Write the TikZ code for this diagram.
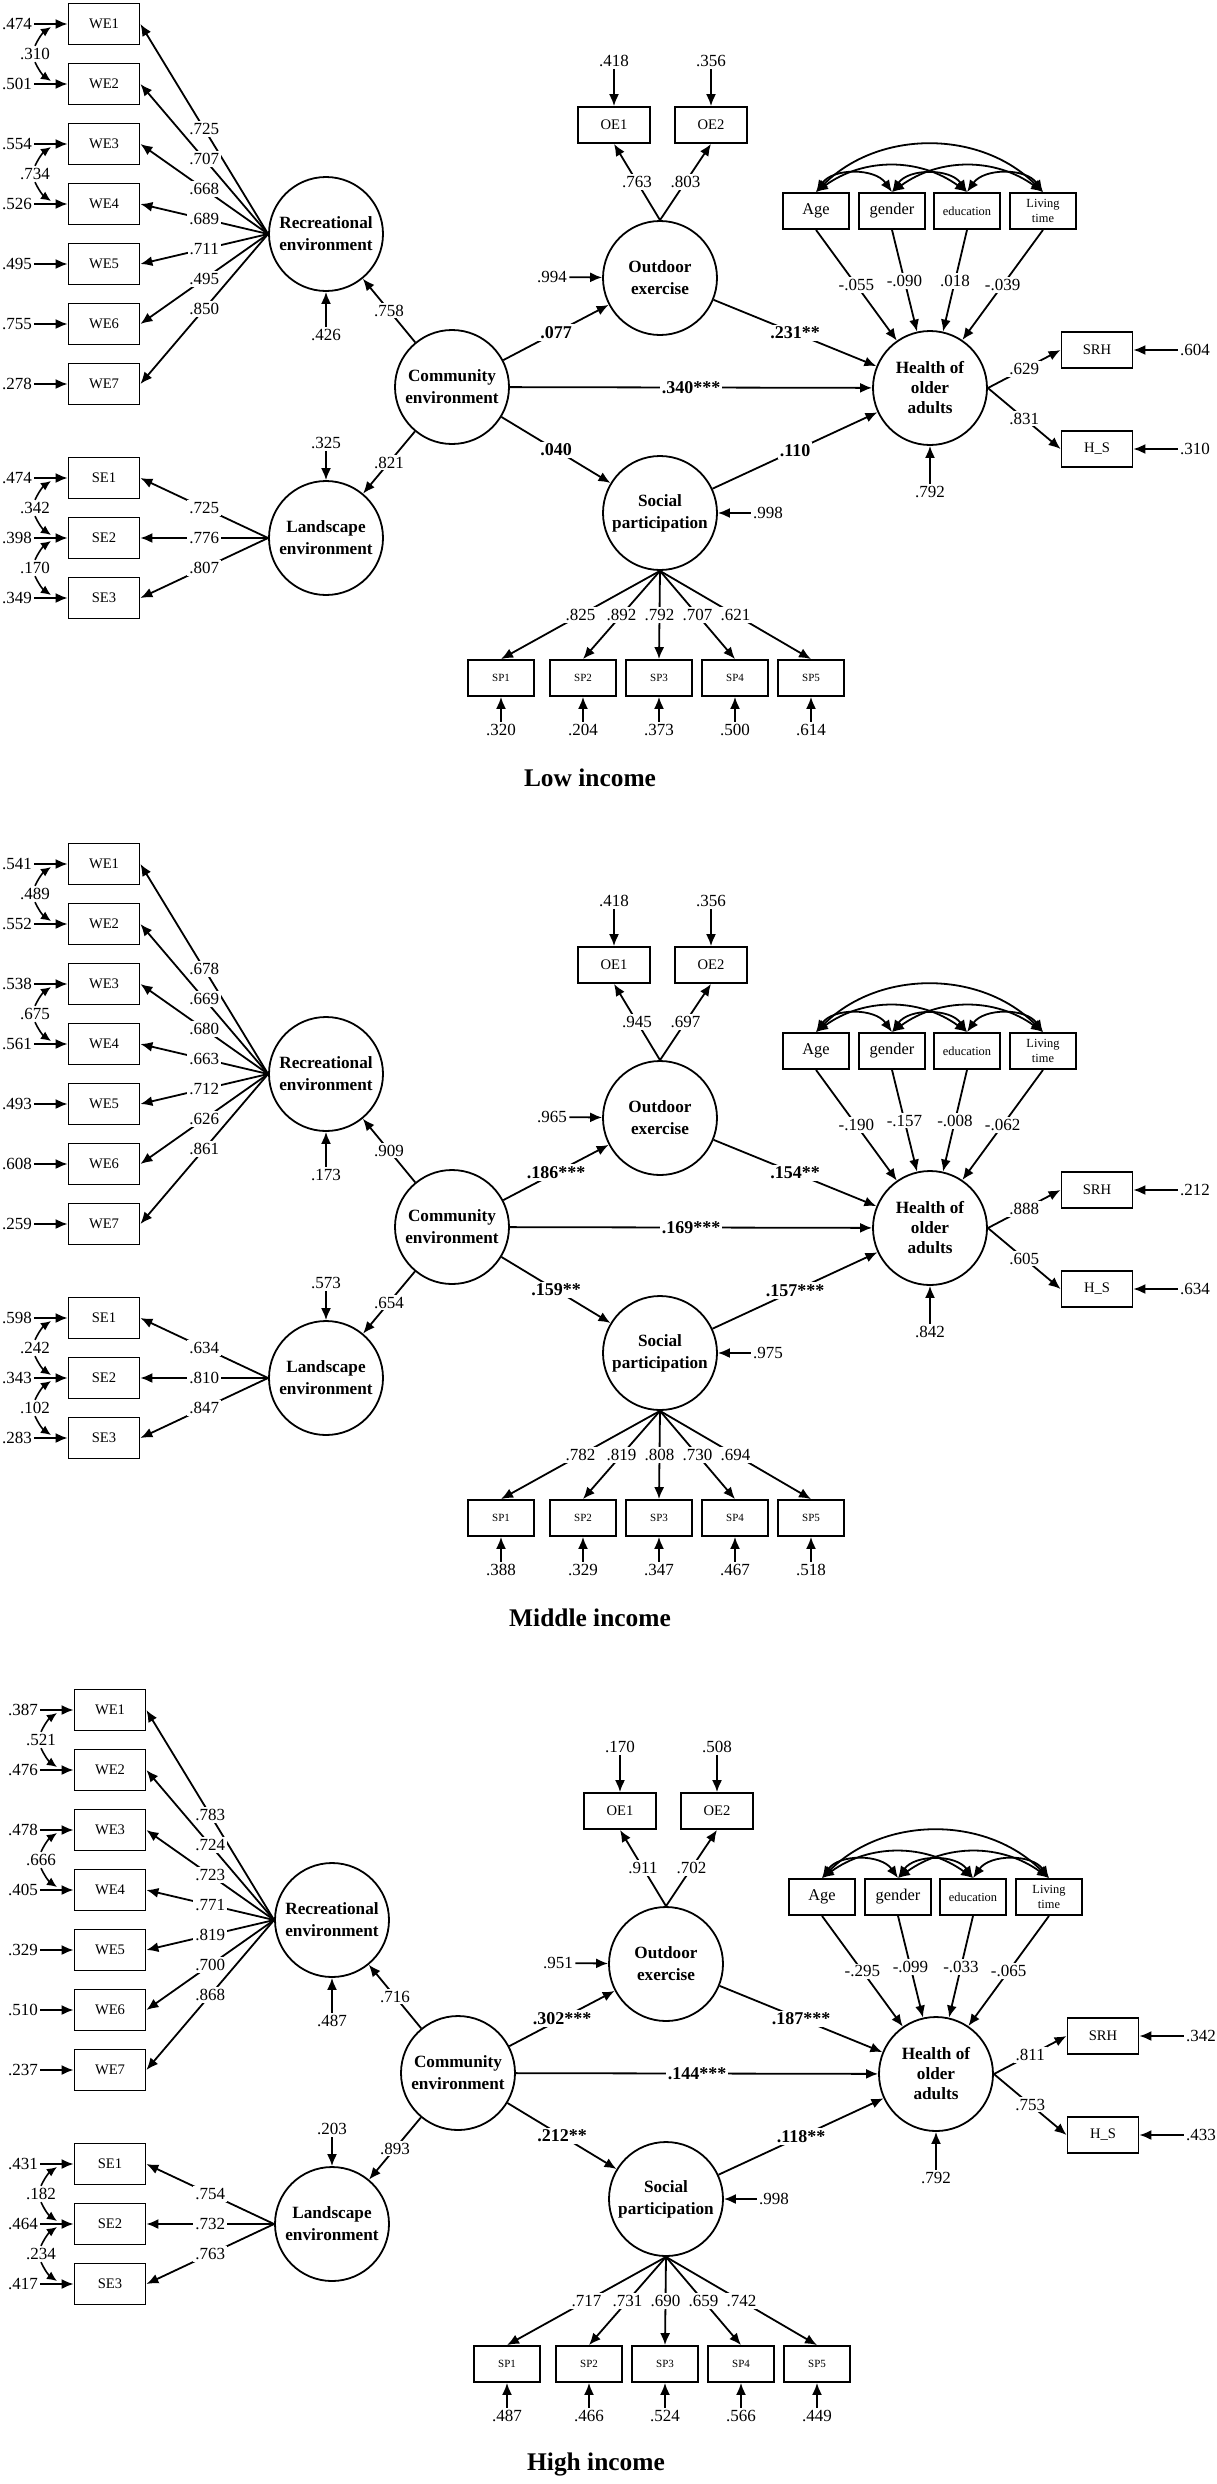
\documentclass[tikz,border=0pt]{standalone}
\usepackage{fontspec}
\setmainfont{Liberation Serif}
\usetikzlibrary{arrows.meta, positioning}

% one SEM panel: #1 shift, #2 name prefix, #3 title
\newcommand{\sempanel}[3]{%
\begin{scope}[shift={(#1)}, name prefix=#2-]
  % latent variables
  \node[latent] (rec) at (326,234) {Recreational\\environment};
  \node[latent] (land) at (326,538) {Landscape\\environment};
  \node[latent] (com) at (452,387) {Community\\environment};
  \node[latent] (out) at (660,278) {Outdoor\\exercise};
  \node[latent] (soc) at (660,513) {Social\\participation};
  \node[latent, font=\fontsize{8.6}{10}\selectfont\bfseries] (hea) at (930,388) {Health of\\older\\adults};

  % recreational environment: WE1--WE7
  \foreach \e/\l [count=\i] in \weData {
    \node[obs] (we\i) at (104,{-36+60*\i}) {WE\i};
    \node[num] (wee\i) at (17,{-36+60*\i}) {\e};
    \draw[arr] (wee\i) -- (we\i);
    \draw[arr] (rec.west) -- node[lab] {\l} (we\i.east);
  }
  % correlated errors WE1/WE2, WE3/WE4
  \foreach \c/\a in {\weCovA/1, \weCovB/3} {
    \pgfmathtruncatemacro\b{\a+1}
    \node[num] (wec\a) at (35,{60*\a-6}) {\c};
    \coordinate (wep\a) at (51,{60*\a-33});
    \coordinate (wep\b) at (51,{60*\a+21});
    \draw[cv] (wec\a.north) to[bend left=15] (wep\a);
    \draw[cv] (wec\a.south) to[bend right=15] (wep\b);
  }

  % landscape environment: SE1--SE3
  \foreach \e/\l [count=\i] in \seData {
    \node[obs] (se\i) at (104,{418+60*\i}) {SE\i};
    \node[num] (see\i) at (17,{418+60*\i}) {\e};
    \draw[arr] (see\i) -- (se\i);
    \draw[arr] (land.west) -- node[lab] {\l} (se\i.east);
  }
  \node[num] (sec1) at (35,508) {\seCovA};
  \node[num] (sec2) at (35,568) {\seCovB};
  \coordinate (sep1) at (51,481);
  \coordinate (sep2) at (51,535);
  \coordinate (sep3) at (51,541);
  \coordinate (sep4) at (51,595);
  \draw[cv] (sec1.north) to[bend left=15] (sep1);
  \draw[cv] (sec1.south) to[bend right=15] (sep2);
  \draw[cv] (sec2.north) to[bend left=15] (sep3);
  \draw[cv] (sec2.south) to[bend right=15] (sep4);

  % residuals of the latent variables
  \node[num] (recr) at (326,335) {\recRes};
  \node[num] (landr) at (326,443) {\landRes};
  \node[num] (outr) at (552,277) {\outRes};
  \node[num] (socr) at (768,513) {\socRes};
  \node[num] (hear) at (930,492) {\heaRes};
  \draw[arr] (recr) -- (rec);
  \draw[arr] (landr) -- (land);
  \draw[arr] (outr) -- (out);
  \draw[arr] (socr) -- (soc);
  \draw[arr] (hear) -- (hea);

  % structural paths
  \draw[arr] (com) -- node[lab] {\comRec} (rec);
  \draw[arr] (com) -- node[lab] {\comLand} (land);
  \draw[arr] (com) -- node[coef] {\comOut} (out);
  \draw[arr] (com) -- node[coef] {\comHea} (hea);
  \draw[arr] (com) -- node[coef] {\comSoc} (soc);
  \draw[arr] (out) -- node[coef] {\outHea} (hea);
  \draw[arr] (soc) -- node[coef] {\socHea} (hea);

  % outdoor exercise: OE1, OE2
  \foreach \e/\l [count=\i] in \oeData {
    \node[obs, minimum width=36pt, minimum height=18pt] (oe\i) at ({517+97*\i},125) {OE\i};
    \node[num] (oee\i) at ({517+97*\i},61) {\e};
    \draw[arr] (oee\i) -- (oe\i);
    \draw[arr] (out.north) -- node[lab] {\l} (oe\i.south);
  }

  % control variables
  \node[ctrl] (age) at (816,211) {Age};
  \node[ctrl] (gen) at (892,211) {gender};
  \node[ctrl, font=\fontsize{6.2}{7.5}\selectfont] (edu) at (967,211) {education};
  \node[ctrl, font=\fontsize{6.2}{7.5}\selectfont] (liv) at (1043,211) {Living\\time};
  \draw[arr] (age.south) -- node[lab] {\ageHea} (hea.125);
  \draw[arr] (gen.south) -- node[lab] {\genHea} (hea.103);
  \draw[arr] (edu.south) -- node[lab] {\eduHea} (hea.77);
  \draw[arr] (liv.south) -- node[lab] {\livHea} (hea.56);
  \draw[dbl] (age.north) to[bend left=45] (liv.north);
  \draw[dbl] (age.north) to[bend left=36] (edu.north);
  \draw[dbl] (gen.north) to[bend left=36] (liv.north);
  \draw[dbl] (age.north) to[bend left=55] (gen.north);
  \draw[dbl] (gen.north) to[bend left=55] (edu.north);
  \draw[dbl] (edu.north) to[bend left=55] (liv.north);

  % health of older adults: SRH, H_S
  \node[obs, minimum height=18pt] (srh) at (1097,350) {SRH};
  \node[obs, minimum height=18pt] (hs) at (1097,449) {H\_S};
  \node[num] (srhe) at (1195,350) {\srhErr};
  \node[num] (hse) at (1195,449) {\hsErr};
  \draw[arr] (srhe) -- (srh);
  \draw[arr] (hse) -- (hs);
  \draw[arr] (hea.east) -- node[lab] {\heaSrh} (srh.west);
  \draw[arr] (hea.east) -- node[lab] {\heaHs} (hs.west);

  % social participation: SP1--SP5
  \foreach \e/\l [count=\i] in \spData {
    \pgfmathsetmacro\x{507+76*(\i-1)-6*(\i==1)}
    \node[obs, minimum width=33pt, minimum height=18pt, font=\fontsize{5.5}{6}\selectfont] (sp\i) at (\x,678) {SP\i};
    \node[num] (spe\i) at (\x,730) {\e};
    \draw[arr] (spe\i) -- (sp\i);
    \draw[arr] (soc.south) -- node[lab] {\l} (sp\i.north);
  }

  \node[font=\fontsize{12.7}{14}\selectfont\bfseries] (ttl) at (590,778) {#3};
\end{scope}}

\begin{document}
\begin{tikzpicture}[x=0.5pt, y=-0.5pt,
    >={Latex[length=6pt,width=5pt]},
    arr/.style={->, line width=0.9pt},
    dbl/.style={<->, line width=0.9pt},
    cv/.style={-{Latex[length=5pt,width=4.5pt]}, line width=0.8pt},
    latent/.style={circle, draw, line width=0.9pt, minimum size=57pt, inner sep=0pt,
      align=center, font=\fontsize{8.6}{11}\selectfont\bfseries},
    obs/.style={rectangle, draw, line width=0.9pt, minimum width=35.5pt, minimum height=20.5pt,
      inner sep=1pt, align=center, font=\fontsize{7.3}{8}\selectfont},
    ctrl/.style={obs, minimum width=33pt, minimum height=18pt, font=\fontsize{8.2}{9}\selectfont},
    num/.style={inner sep=1pt, font=\fontsize{8.5}{9}\selectfont},
    lab/.style={num, fill=white},
    coef/.style={lab, font=\fontsize{9}{10}\selectfont\bfseries}
  ]
  \useasboundingbox (0,0) rectangle (1216,2484);

  % low income
  \def\weData{.474/.725, .501/.707, .554/.668, .526/.689, .495/.711, .755/.495, .278/.850}
  \def\weCovA{.310}\def\weCovB{.734}
  \def\seData{.474/.725, .398/.776, .349/.807}
  \def\seCovA{.342}\def\seCovB{.170}
  \def\recRes{.426}\def\landRes{.325}\def\outRes{.994}\def\socRes{.998}\def\heaRes{.792}
  \def\comRec{.758}\def\comLand{.821}
  \def\comOut{.077}\def\comHea{.340***}\def\comSoc{.040}\def\outHea{.231**}\def\socHea{.110}
  \def\oeData{.418/.763, .356/.803}
  \def\ageHea{-.055}\def\genHea{-.090}\def\eduHea{.018}\def\livHea{-.039}
  \def\srhErr{.604}\def\hsErr{.310}\def\heaSrh{.629}\def\heaHs{.831}
  \def\spData{.320/.825, .204/.892, .373/.792, .500/.707, .614/.621}
  \sempanel{0,0}{low}{Low income}

  % middle income
  \def\weData{.541/.678, .552/.669, .538/.680, .561/.663, .493/.712, .608/.626, .259/.861}
  \def\weCovA{.489}\def\weCovB{.675}
  \def\seData{.598/.634, .343/.810, .283/.847}
  \def\seCovA{.242}\def\seCovB{.102}
  \def\recRes{.173}\def\landRes{.573}\def\outRes{.965}\def\socRes{.975}\def\heaRes{.842}
  \def\comRec{.909}\def\comLand{.654}
  \def\comOut{.186***}\def\comHea{.169***}\def\comSoc{.159**}\def\outHea{.154**}\def\socHea{.157***}
  \def\oeData{.418/.945, .356/.697}
  \def\ageHea{-.190}\def\genHea{-.157}\def\eduHea{-.008}\def\livHea{-.062}
  \def\srhErr{.212}\def\hsErr{.634}\def\heaSrh{.888}\def\heaHs{.605}
  \def\spData{.388/.782, .329/.819, .347/.808, .467/.730, .518/.694}
  \sempanel{0,840}{mid}{Middle income}

  % high income
  \def\weData{.387/.783, .476/.724, .478/.723, .405/.771, .329/.819, .510/.700, .237/.868}
  \def\weCovA{.521}\def\weCovB{.666}
  \def\seData{.431/.754, .464/.732, .417/.763}
  \def\seCovA{.182}\def\seCovB{.234}
  \def\recRes{.487}\def\landRes{.203}\def\outRes{.951}\def\socRes{.998}\def\heaRes{.792}
  \def\comRec{.716}\def\comLand{.893}
  \def\comOut{.302***}\def\comHea{.144***}\def\comSoc{.212**}\def\outHea{.187***}\def\socHea{.118**}
  \def\oeData{.170/.911, .508/.702}
  \def\ageHea{-.295}\def\genHea{-.099}\def\eduHea{-.033}\def\livHea{-.065}
  \def\srhErr{.342}\def\hsErr{.433}\def\heaSrh{.811}\def\heaHs{.753}
  \def\spData{.487/.717, .466/.731, .524/.690, .566/.659, .449/.742}
  \sempanel{6,1686}{high}{High income}
\end{tikzpicture}
\end{document}
